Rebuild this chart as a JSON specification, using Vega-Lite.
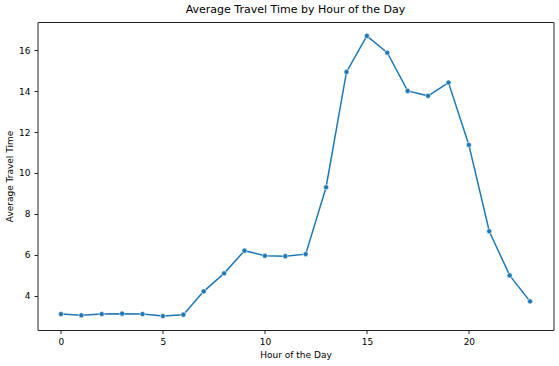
{
  "$schema": "https://vega.github.io/schema/vega-lite/v6.json",
  "width": 516,
  "height": 308,
  "autosize": {"type": "none"},
  "padding": {"left": 37.5, "top": 22, "right": 6, "bottom": 36},
  "background": "white",
  "title": {
    "text": "Average Travel Time by Hour of the Day",
    "font": "DejaVu Sans",
    "fontSize": 11,
    "fontWeight": "normal",
    "color": "black",
    "anchor": "middle",
    "offset": 7
  },
  "config": {
    "view": {"stroke": "#222222", "strokeWidth": 1},
    "axis": {
      "domain": false,
      "grid": false,
      "tickColor": "#222222",
      "tickSize": 3.5,
      "labelFont": "DejaVu Sans",
      "labelFontSize": 9,
      "labelColor": "black",
      "labelPadding": 4,
      "titleFont": "DejaVu Sans",
      "titleFontSize": 9,
      "titleFontWeight": "normal",
      "titleColor": "black"
    }
  },
  "data": {
    "values": [
      {"hour": 0, "time": 3.10},
      {"hour": 1, "time": 3.04},
      {"hour": 2, "time": 3.10},
      {"hour": 3, "time": 3.12},
      {"hour": 4, "time": 3.10},
      {"hour": 5, "time": 3.00},
      {"hour": 6, "time": 3.07},
      {"hour": 7, "time": 4.21},
      {"hour": 8, "time": 5.09},
      {"hour": 9, "time": 6.20},
      {"hour": 10, "time": 5.95},
      {"hour": 11, "time": 5.93},
      {"hour": 12, "time": 6.03},
      {"hour": 13, "time": 9.30},
      {"hour": 14, "time": 14.94},
      {"hour": 15, "time": 16.70},
      {"hour": 16, "time": 15.88},
      {"hour": 17, "time": 14.01},
      {"hour": 18, "time": 13.77},
      {"hour": 19, "time": 14.42},
      {"hour": 20, "time": 11.37},
      {"hour": 21, "time": 7.15},
      {"hour": 22, "time": 4.99},
      {"hour": 23, "time": 3.72}
    ]
  },
  "encoding": {
    "x": {
      "field": "hour",
      "type": "quantitative",
      "scale": {"domain": [-1.15, 24.15], "nice": false, "zero": false},
      "axis": {"values": [0, 5, 10, 15, 20], "title": "Hour of the Day", "titlePadding": 4}
    },
    "y": {
      "field": "time",
      "type": "quantitative",
      "scale": {"domain": [2.32, 17.38], "nice": false, "zero": false},
      "axis": {"values": [4, 6, 8, 10, 12, 14, 16], "title": "Average Travel Time", "titlePadding": 4}
    }
  },
  "layer": [
    {"mark": {"type": "line", "color": "#1f77b4", "strokeWidth": 1.5}},
    {"mark": {"type": "point", "shape": "circle", "filled": true, "fill": "#1f77b4", "stroke": "white", "strokeWidth": 0.6, "size": 26, "opacity": 1}}
  ]
}
